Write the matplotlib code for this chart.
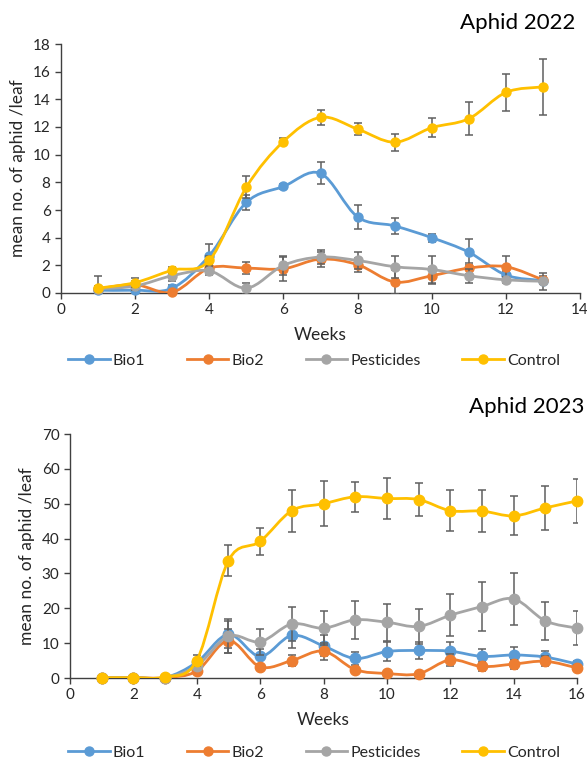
import numpy as np
import matplotlib
matplotlib.use("Agg")
import matplotlib.pyplot as plt
from matplotlib.path import Path
from matplotlib.patches import PathPatch
from matplotlib.lines import Line2D

plt.rcParams['font.family'] = ['Lato', 'DejaVu Sans']

series_names = ['Bio1', 'Bio2', 'Pesticides', 'Control']
colors = ['#5B9BD5', '#ED7D31', '#A5A5A5', '#FFC000']

# Aphid 2022
weeks_2022 = np.arange(1, 14)
bio1_2022 = [0.2, 0.2, 0.35, 2.7, 6.55, 7.7, 8.65, 5.5, 4.85, 4.0, 2.95, 1.3, 0.9]
bio1_err_2022 = [0.1, 0.1, 0.2, 0.85, 0.55, 0.2, 0.8, 0.85, 0.6, 0.3, 0.95, 0.3, 0.1]
bio2_2022 = [0.3, 0.6, 0.05, 1.8, 1.8, 1.75, 2.45, 2.05, 0.8, 1.25, 1.8, 1.9, 0.95]
bio2_err_2022 = [0.2, 0.3, 0.1, 0.3, 0.45, 0.85, 0.55, 0.5, 0.85, 0.6, 0.4, 0.8, 0.3]
pest_2022 = [0.3, 0.5, 1.25, 1.6, 0.35, 2.0, 2.6, 2.35, 1.9, 1.7, 1.25, 0.95, 0.85]
pest_err_2022 = [0.2, 0.3, 0.4, 0.3, 0.4, 0.7, 0.5, 0.65, 0.8, 1.0, 0.5, 0.2, 0.6]
ctrl_2022 = [0.35, 0.75, 1.65, 2.35, 7.65, 10.95, 12.7, 11.85, 10.9, 11.95, 12.6, 14.5, 14.9]
ctrl_err_2022 = [0.9, 0.35, 0.2, 0.3, 0.8, 0.25, 0.55, 0.45, 0.6, 0.7, 1.2, 1.35, 2.0]

# Aphid 2023
weeks_2023 = np.arange(1, 17)
bio1_2023 = [0.1, 0.1, 0.1, 4.5, 12.5, 6.2, 12.2, 9.2, 5.6, 7.6, 7.9, 7.7, 6.2, 6.6, 6.0, 4.0]
bio1_err_2023 = [0, 0, 0, 1.0, 3.8, 2.2, 3.5, 3.0, 2.0, 2.7, 2.5, 2.5, 2.2, 2.3, 1.8, 1.0]
bio2_2023 = [0.1, 0.1, 0.1, 2.0, 10.7, 3.2, 5.0, 7.7, 2.4, 1.3, 1.2, 5.2, 3.3, 4.0, 4.8, 2.9]
bio2_err_2023 = [0, 0, 0, 0.5, 3.5, 0.9, 1.5, 2.4, 0.6, 0.4, 0.4, 1.8, 1.2, 1.3, 1.5, 0.9]
pest_2023 = [0.1, 0.1, 0.1, 3.5, 12.0, 10.4, 15.5, 14.3, 16.7, 16.0, 14.8, 18.0, 20.5, 22.7, 16.4, 14.3]
pest_err_2023 = [0, 0, 0, 1.0, 4.8, 3.7, 5.0, 4.8, 5.5, 5.3, 5.0, 6.0, 6.9, 7.5, 5.5, 4.8]
ctrl_2023 = [0.1, 0.1, 0.3, 5.0, 33.7, 39.2, 48.0, 50.0, 52.0, 51.5, 51.2, 48.0, 47.9, 46.5, 48.8, 50.8]
ctrl_err_2023 = [0, 0, 0, 1.5, 4.5, 3.9, 6.0, 6.4, 4.3, 5.8, 4.7, 5.8, 5.9, 5.6, 6.4, 6.3]


def smooth_path(x, y):
    # Excel-like smoothed line: Catmull-Rom segments as cubic Beziers
    pts = np.column_stack([x, y]).astype(float)
    n = len(pts)
    verts = [pts[0]]
    codes = [Path.MOVETO]
    for i in range(n - 1):
        p0 = pts[i - 1] if i > 0 else pts[i]
        p1 = pts[i]
        p2 = pts[i + 1]
        p3 = pts[i + 2] if i + 2 < n else pts[i + 1]
        verts += [p1 + (p2 - p0) / 6, p2 - (p3 - p1) / 6, p2]
        codes += [Path.CURVE4] * 3
    return Path(verts, codes)


def draw_panel(ax, weeks, values, errors, xmax, ymax, ystep, msize):
    for i, (vals, errs) in enumerate(zip(values, errors)):
        z = 3 + i
        ax.errorbar(weeks, vals, yerr=errs, fmt='none', ecolor='#5f5f5f',
                    elinewidth=1.1, capsize=3, capthick=1.1, zorder=z)
        ax.add_patch(PathPatch(smooth_path(weeks, vals), facecolor='none',
                               edgecolor=colors[i], lw=2.0, zorder=z))
        ax.plot(weeks, vals, 'o', color=colors[i], ms=msize, zorder=z, clip_on=False)
    ax.set_xlim(0, xmax)
    ax.set_ylim(0, ymax)
    ax.set_xticks(np.arange(0, xmax + 1, 2))
    ax.set_yticks(np.arange(0, ymax + 1, ystep))
    for s in ['top', 'right']:
        ax.spines[s].set_visible(False)
    for s in ['left', 'bottom']:
        ax.spines[s].set_color('#404040')
        ax.spines[s].set_linewidth(1.0)
    ax.tick_params(colors='#404040', labelcolor='#262626', labelsize=11,
                   length=4, width=1.0)
    ax.set_xlabel('Weeks', fontsize=12.5, color='#262626', labelpad=7)
    ax.set_ylabel('mean no. of aphid /leaf', fontsize=12.5, color='#262626', labelpad=5)


fig = plt.figure(figsize=(5.87, 7.63), dpi=100)

ax1 = fig.add_axes([61 / 587, 1 - 293 / 763, 519 / 587, 249 / 763])
draw_panel(ax1, weeks_2022,
           [bio1_2022, bio2_2022, pest_2022, ctrl_2022],
           [bio1_err_2022, bio2_err_2022, pest_err_2022, ctrl_err_2022],
           14, 18, 2, 6.5)

ax2 = fig.add_axes([70 / 587, 1 - 678 / 763, 507 / 587, 244 / 763])
draw_panel(ax2, weeks_2023,
           [bio1_2023, bio2_2023, pest_2023, ctrl_2023],
           [bio1_err_2023, bio2_err_2023, pest_err_2023, ctrl_err_2023],
           16, 70, 10, 7.5)

fig.text(575 / 587, 1 - 23 / 763, 'Aphid 2022', ha='right', va='center', fontsize=16)
fig.text(584 / 587, 1 - 407 / 763, 'Aphid 2023', ha='right', va='center', fontsize=16)

handles = [Line2D([], [], color=c, lw=2.0, marker='o', ms=6.5) for c in colors]
for ypos in [1 - 361 / 763, 1 - 753 / 763]:
    fig.legend(handles, series_names, loc='center', bbox_to_anchor=(0.535, ypos),
               ncol=4, frameon=False, fontsize=11.5, handlelength=2.6,
               handletextpad=0.2, columnspacing=2.6, labelcolor='#262626')

fig.savefig('out.png', dpi=100)
